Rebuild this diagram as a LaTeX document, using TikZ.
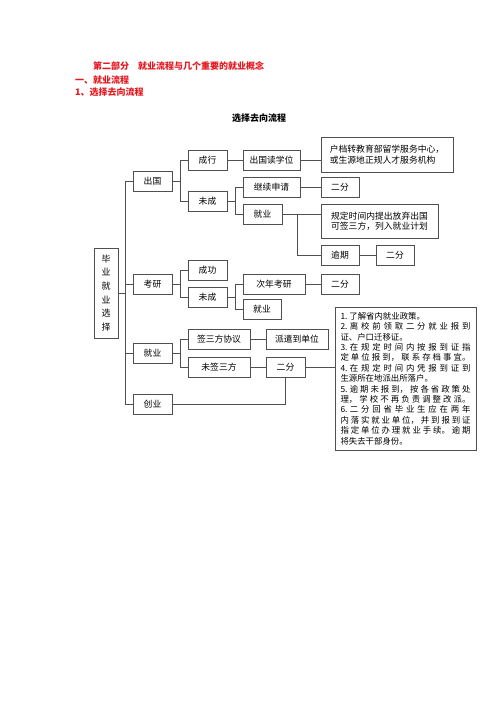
\documentclass[tikz,border=0pt]{standalone}
\usepackage{fontspec}
\setmainfont{Noto Sans CJK SC}
\usetikzlibrary{shadows}
\XeTeXlinebreaklocale "zh"
\XeTeXlinebreakskip=0pt plus 5pt
\setlength{\parindent}{0pt}
\definecolor{headred}{RGB}{228,24,32}
\definecolor{linegray}{RGB}{80,80,80}
\tikzset{
  box/.style={draw=linegray, line width=0.6pt, fill=white, inner sep=0pt,
    minimum height=20pt, font=\fontsize{8.8}{10.5}\selectfont,
    drop shadow={shadow xshift=0.9pt, shadow yshift=-0.9pt, fill=black!35, opacity=1}},
  wire/.style={draw=linegray, line width=0.6pt},
  head/.style={anchor=west, inner sep=0pt, text=headred, font=\fontsize{9}{11}\selectfont\bfseries},
}

\begin{document}
\begin{tikzpicture}[x=1pt,y=-1pt]
            \useasboundingbox (0,0) rectangle (500,708);
            % headings
            \node[head] (h1) at (93,66.5) {第二部分　就业流程与几个重要的就业概念};
            \node[head] (h2) at (75,80) {一、就业流程};
            \node[head] (h3) at (75,92.5) {1、选择去向流程};
            \node[inner sep=0pt, font=\fontsize{9}{11}\selectfont\bfseries] (title) at (259,118) {选择去向流程};
            % boxes
            \node[box, minimum width=24pt, minimum height=90pt, align=center, font=\fontsize{9}{13.6}\selectfont] (bz) at (106,293) {毕\\业\\就\\业\\选\\择};
            \node[box, minimum width=39pt] (cg) at (152.5,181) {出国};
            \node[box, minimum width=39pt] (ky) at (152.5,284) {考研};
            \node[box, minimum width=39pt] (jy) at (152.5,353) {就业};
            \node[box, minimum width=39pt] (cy) at (152.5,404) {创业};
            \node[box, minimum width=39pt] (cx) at (207.5,160) {成行};
            \node[box, minimum width=39pt] (wc1) at (207.5,201) {未成};
            \node[box, minimum width=39pt] (cgo) at (207.5,270.5) {成功};
            \node[box, minimum width=39pt] (wc2) at (207.5,297.5) {未成};
            \node[box, minimum width=62pt] (sfxy) at (219,339) {签三方协议};
            \node[box, minimum width=62pt] (wqsf) at (219,367) {未签三方};
            \node[box, minimum width=57pt] (dxw) at (271.5,160) {出国读学位};
            \node[box, minimum width=57pt] (jxsq) at (271.5,187.5) {继续申请};
            \node[box, minimum width=39pt] (jy1) at (262.5,214) {就业};
            \node[box, minimum width=62pt] (ncky) at (274,284) {次年考研};
            \node[box, minimum width=38pt] (jy2) at (262,309) {就业};
            \node[box, minimum width=62pt] (pqdw) at (297,339) {派遣到单位};
            \node[box, minimum width=39pt] (ef4) at (285.5,367) {二分};
            \node[box, minimum width=132pt, minimum height=35pt, align=left] (hd) at (387,154.5) {户档转教育部留学服务中心，\\或生源地正规人才服务机构};
            \node[box, minimum width=38pt] (ef1) at (340,187.5) {二分};
            \node[box, minimum width=117pt, minimum height=34pt, align=left] (gd) at (379.5,221) {规定时间内提出放弃出国\\可签三方，列入就业计划};
            \node[box, minimum width=38pt] (yq) at (340,255) {逾期};
            \node[box, minimum width=38pt] (ef2) at (395,255) {二分};
            \node[box, minimum width=38pt] (ef3) at (340,284) {二分};
            \node[box, minimum width=141pt, minimum height=143pt, text width=130pt, align=justify,
              font=\fontsize{8.4}{10.4}\selectfont] (note) at (405.5,378.5) {1.~了解省内就业政策。\\
              2.~离校前领取二分就业报到\linebreak 证、户口迁移证。\\
              3.~在规定时间内按报到证指\linebreak 定单位报到，联系存档事宜。\linebreak
              4.~在规定时间内凭报到证到\linebreak 生源所在地派出所落户。\\
              5.~逾期未报到，按各省政策处\linebreak 理，学校不再负责调整改派。\linebreak
              6.~二分回省毕业生应在两年\linebreak 内落实就业单位，并到报到证\linebreak 指定单位办理就业手续。逾期\linebreak 将失去干部身份。};
            % connectors
            \draw[wire] (bz.east) -- ++(7,0) coordinate (t0);
            \foreach \n in {cg,ky,jy,cy} \draw[wire] (t0) |- (\n.west);
            \draw[wire] (cg.east) -- ++(8,0) coordinate (b1);
            \foreach \n in {cx,wc1} \draw[wire] (b1) |- (\n.west);
            \draw[wire] (wc1.east) -- ++(8,0) coordinate (b2);
            \foreach \n in {jxsq,jy1} \draw[wire] (b2) |- (\n.west);
            \draw[wire] (ky.east) -- ++(8,0) coordinate (b3);
            \foreach \n in {cgo,wc2} \draw[wire] (b3) |- (\n.west);
            \draw[wire] (wc2.east) -- ++(8,0) coordinate (b4);
            \foreach \n in {ncky,jy2} \draw[wire] (b4) |- (\n.west);
            \draw[wire] (jy.east) -- ++(8,0) coordinate (b5);
            \foreach \n in {sfxy,wqsf} \draw[wire] (b5) |- (\n.west);
            \draw[wire] (cx) -- (dxw);
            \draw[wire] (dxw.east) -- (dxw.east -| hd.west);
            \draw[wire] (jxsq) -- (ef1);
            \draw[wire] (jy1.east) -- (jy1.east -| gd.west);
            \draw[wire] (jy1.east) ++(15,0) |- (yq.west);
            \draw[wire] (yq) -- (ef2);
            \draw[wire] (ncky) -- (ef3);
            \draw[wire] (sfxy) -- (pqdw);
            \draw[wire] (wqsf) -- (ef4);
            \draw[wire] (ef4.east) -- (ef4.east -| note.west);
            \draw[wire] (ef4.south) |- (cy.east);
        \end{tikzpicture}
\end{document}
